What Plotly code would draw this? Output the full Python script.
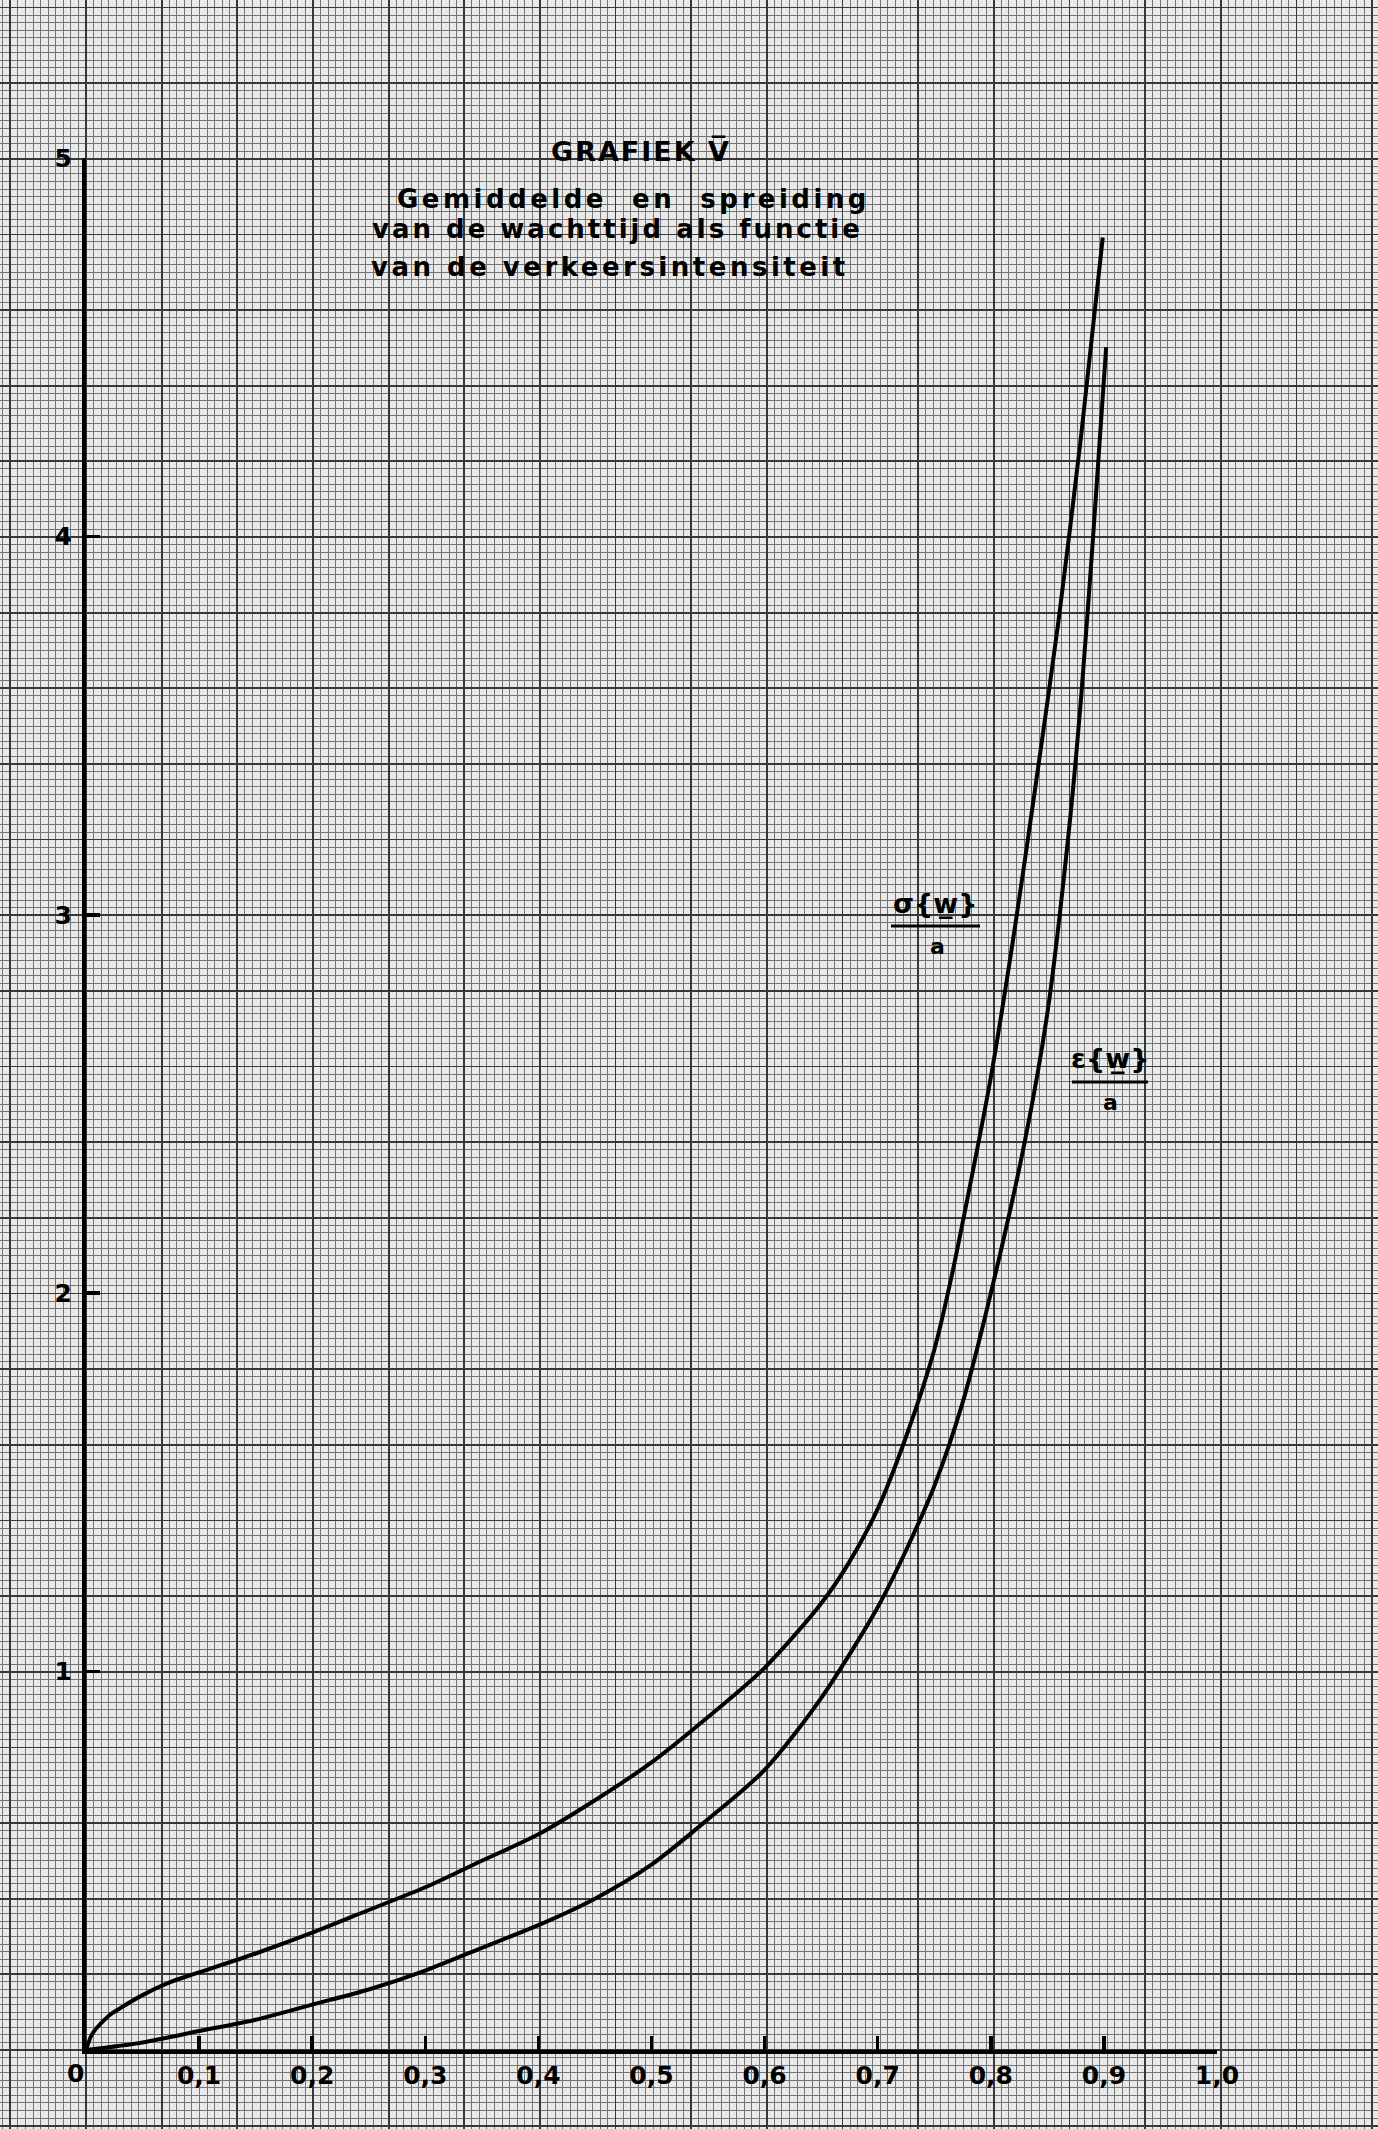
import plotly.graph_objects as go

# ---- data ----
rho_sigma = [0, 0.005, 0.01, 0.02, 0.03, 0.05, 0.075, 0.1, 0.15, 0.2, 0.25, 0.3, 0.35, 0.4,
             0.45, 0.5, 0.55, 0.6, 0.65, 0.675, 0.7, 0.725, 0.75, 0.765, 0.78, 0.8, 0.82,
             0.84, 0.86, 0.88, 0.899]
sigma_w = [0, 0.04, 0.06, 0.09, 0.11, 0.145, 0.18, 0.205, 0.255, 0.31, 0.37, 0.43, 0.50, 0.57,
           0.66, 0.76, 0.88, 1.01, 1.18, 1.29, 1.43, 1.62, 1.85, 2.04, 2.26, 2.57, 2.94,
           3.35, 3.78, 4.27, 4.79]

rho_mean = [0, 0.05, 0.1, 0.15, 0.2, 0.25, 0.3, 0.35, 0.4, 0.45, 0.5, 0.55, 0.6, 0.65,
            0.7, 0.725, 0.75, 0.775, 0.8, 0.83, 0.85, 0.87, 0.88, 0.89, 0.902]
mean_w = [0, 0.02, 0.05, 0.08, 0.12, 0.16, 0.21, 0.27, 0.33, 0.40, 0.49, 0.61, 0.74, 0.93,
          1.17, 1.32, 1.49, 1.71, 2.00, 2.40, 2.74, 3.25, 3.58, 3.98, 4.50]

x_tickvals = [0.1, 0.2, 0.3, 0.4, 0.5, 0.6, 0.7, 0.8, 0.9, 1.0]
x_ticktext = ["0,1", "0,2", "0,3", "0,4", "0,5", "0,6", "0,7", "0,8", "0,9", "1,0"]
y_tickvals = [1, 2, 3, 4, 5]
y_ticktext = ["1", "2", "3", "4", "5"]

title_lines = ["GRAFIEK V\u0305",
               "Gemiddelde  en  spreiding",
               "van de wachttijd als functie",
               "van de verkeersintensiteit"]

# ---- page geometry (pixels) ----
W, H = 1378, 2129
X0, X1 = 86, 1217          # x = 0 and x = 1.0
Y0, Y5 = 2050, 158         # y = 0 and y = 5 (from top)
MM = 7.565                 # graph paper millimetre
FONT = "DejaVu Sans"

fig = go.Figure()

# empty trace to anchor the graph-paper axes
fig.add_trace(go.Scatter(x=[], y=[], xaxis="x", yaxis="y", showlegend=False, hoverinfo="skip"))

fig.add_trace(go.Scatter(x=rho_sigma, y=sigma_w, xaxis="x2", yaxis="y2", mode="lines",
                         line=dict(color="black", width=4, shape="spline", smoothing=0.8),
                         showlegend=False, hoverinfo="skip"))
fig.add_trace(go.Scatter(x=rho_mean, y=mean_w, xaxis="x2", yaxis="y2", mode="lines",
                         line=dict(color="black", width=4, shape="spline", smoothing=0.8),
                         showlegend=False, hoverinfo="skip"))

grid_common = dict(showticklabels=False, ticks="", zeroline=False, showline=False,
                   showgrid=True, gridcolor="#383838", gridwidth=1.8, fixedrange=True,
                   automargin=False)

fig.update_layout(
    width=W, height=H, autosize=False,
    margin=dict(l=0, r=0, t=0, b=0, pad=0, autoexpand=False),
    paper_bgcolor="#e9e9e9", plot_bgcolor="rgba(0,0,0,0)",
    xaxis=dict(domain=[0, 1], range=[0, W], tick0=X0, dtick=10 * MM, anchor="y",
               minor=dict(tick0=X0, dtick=MM, showgrid=True, gridcolor="#747474", gridwidth=1),
               **grid_common),
    yaxis=dict(domain=[0, 1], range=[0, H], tick0=H - Y0, dtick=10 * MM, anchor="x",
               minor=dict(tick0=H - Y0, dtick=MM, showgrid=True, gridcolor="#747474", gridwidth=1),
               **grid_common),
    xaxis2=dict(domain=[X0 / W, X1 / W], range=[0, 1], anchor="y2", automargin=False,
                showgrid=False, zeroline=False, showline=True, linecolor="black", linewidth=4,
                ticks="inside", ticklen=14, tickwidth=3.5, tickcolor="black",
                tickvals=x_tickvals, ticktext=x_ticktext, ticklabelstandoff=0,
                tickfont=dict(family=FONT, size=25, color="black", weight="bold"),
                fixedrange=True),
    yaxis2=dict(domain=[(H - Y0) / H, (H - Y5) / H], range=[0, 5], anchor="x2", automargin=False,
                showgrid=False, zeroline=False, showline=True, linecolor="black", linewidth=4,
                ticks="inside", ticklen=14, tickwidth=3.5, tickcolor="black",
                tickvals=y_tickvals, ticktext=y_ticktext, ticklabelstandoff=5,
                tickfont=dict(family=FONT, size=25, color="black", weight="bold"),
                fixedrange=True),
)

ann = []
# title block (pixel positions measured from top)
title_pos = [(641, 151, 27, 2), (633, 199, 26, 3.5), (617, 229, 26, 3), (610, 267, 26, 3.5)]
for txt, (cx, cy, fs, ls) in zip(title_lines, title_pos):
    ann.append(dict(x=cx, y=H - cy, xref="x", yref="y", showarrow=False,
                    text='<span style="letter-spacing:%spx">' % ls + txt + "</span>",
                    font=dict(family=FONT, size=fs, color="black", weight="bold"),
                    xanchor="center", yanchor="middle"))

# origin label
ann.append(dict(x=75, y=H - 2073, xref="x", yref="y", showarrow=False, text="0",
                font=dict(family=FONT, size=25, color="black", weight="bold"),
                xanchor="center", yanchor="middle"))

# curve labels
labels = [("\u03c3{w\u0332}", 935, 903, 891, 980, 926, 937, 946),
          ("\u03b5{w\u0332}", 1110, 1058, 1072, 1148, 1082, 1110, 1102)]
shapes = []
for num, nx, ny, bx0, bx1, by, ax_, ay in labels:
    ann.append(dict(x=nx, y=H - ny, xref="x", yref="y", showarrow=False, text=num,
                    font=dict(family=FONT, size=27, color="black", weight="bold"),
                    xanchor="center", yanchor="middle"))
    ann.append(dict(x=ax_, y=H - ay, xref="x", yref="y", showarrow=False, text="a",
                    font=dict(family=FONT, size=22, color="black", weight="bold"),
                    xanchor="center", yanchor="middle"))
    shapes.append(dict(type="line", xref="x", yref="y", x0=bx0, x1=bx1, y0=H - by, y1=H - by,
                       line=dict(color="black", width=3)))

fig.update_layout(annotations=ann, shapes=shapes)

fig.write_html("out.html", include_plotlyjs=True,
               config={"displayModeBar": False, "staticPlot": True, "responsive": False},
               post_script="document.body.style.margin='0';document.body.style.overflow='hidden';")
